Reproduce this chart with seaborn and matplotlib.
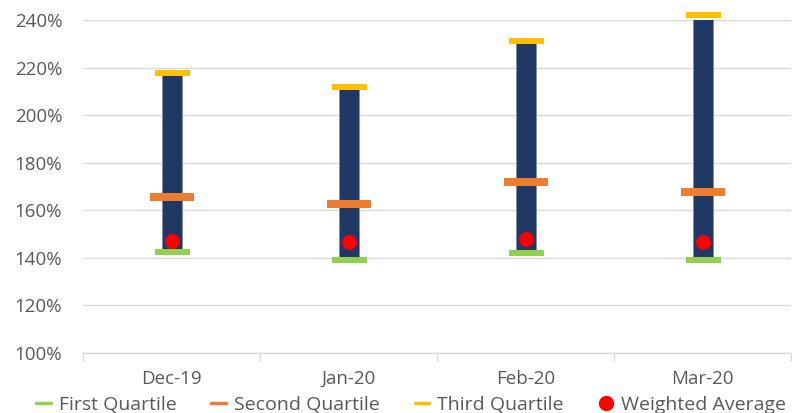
import numpy as np
import pandas as pd
import matplotlib
matplotlib.use("Agg")
import matplotlib.pyplot as plt
import seaborn as sns
from matplotlib.lines import Line2D
from matplotlib.ticker import FuncFormatter, FixedLocator

# ---- data ----
months = ["Dec-19", "Jan-20", "Feb-20", "Mar-20"]
first_quartile = [142.6, 139.1, 141.9, 139.2]
second_quartile = [165.7, 162.5, 172.0, 167.5]
third_quartile = [217.8, 211.9, 231.3, 242.0]
weighted_average = [147.0, 146.5, 147.8, 146.5]
y_ticks = [100, 120, 140, 160, 180, 200, 220, 240]
legend_labels = ["First Quartile", "Second Quartile", "Third Quartile", "Weighted Average"]

# ---- styles ----
NAVY = "#203864"
GREEN = "#92D050"
ORANGE = "#ED7D31"
YELLOW = "#FFC000"
RED = "#FF0000"
TXT = "#595959"
GRID = "#D9D9D9"

sns.set_theme(style="white")
plt.rcParams["font.family"] = ["Open Sans", "DejaVu Sans"]

df = pd.DataFrame({
    "month": months,
    "q1": first_quartile,
    "q2": second_quartile,
    "q3": third_quartile,
    "wa": weighted_average,
})
df["span"] = df["q3"] - df["q1"]

fig = plt.figure(figsize=(7.92, 4.13), dpi=100)
ax = fig.add_axes([0.1048, 0.1453, 0.8942, 0.8063])

sns.barplot(data=df, x="month", y="span", order=months, bottom=df["q1"].to_numpy(),
            color=NAVY, saturation=1, width=0.113, errorbar=None, ax=ax,
            edgecolor="#7F8FA9", linewidth=0.6, zorder=2)

rect_small = [(-1, -0.19), (1, -0.19), (1, 0.19), (-1, 0.19), (-1, -0.19)]
rect_wide = [(-1, -0.16), (1, -0.16), (1, 0.16), (-1, 0.16), (-1, -0.16)]

sns.stripplot(data=df, x="month", y="q1", order=months, jitter=False, marker=rect_small,
              size=25.2, color=GREEN, linewidth=0, ax=ax, zorder=3, clip_on=False)
sns.stripplot(data=df, x="month", y="q2", order=months, jitter=False, marker=rect_wide,
              size=31.7, color=ORANGE, linewidth=0, ax=ax, zorder=3, clip_on=False)
sns.stripplot(data=df, x="month", y="q3", order=months, jitter=False, marker=rect_small,
              size=25.2, color=YELLOW, linewidth=0, ax=ax, zorder=3, clip_on=False)
sns.stripplot(data=df, x="month", y="wa", order=months, jitter=False, marker="o",
              size=10.8, color=RED, linewidth=0, ax=ax, zorder=4, clip_on=False)

ax.set_xlim(-0.5, len(months) - 0.5)
ax.set_ylim(y_ticks[0], y_ticks[-1])
ax.yaxis.set_major_locator(FixedLocator(y_ticks))
ax.yaxis.set_major_formatter(FuncFormatter(lambda v, p: f"{v:.0f}%"))
ax.yaxis.grid(True, color=GRID, linewidth=1.0)
ax.xaxis.grid(False)
ax.set_axisbelow(True)
for s in ["left", "top", "right"]:
    ax.spines[s].set_visible(False)
ax.spines["bottom"].set_color(GRID)
ax.spines["bottom"].set_linewidth(1.0)

ax.set_xlabel("")
ax.set_ylabel("")
ax.set_xticks(np.arange(-0.5, len(months)), minor=True)
ax.tick_params(axis="x", which="major", length=0, pad=12, labelsize=13.5, labelcolor=TXT)
ax.tick_params(axis="x", which="minor", length=6, width=1, color=GRID, direction="out", bottom=True)
ax.tick_params(axis="y", length=0, pad=15, labelsize=13.5, labelcolor=TXT)

handles = [
    Line2D([], [], color=GREEN, lw=2.5),
    Line2D([], [], color=ORANGE, lw=2.5),
    Line2D([], [], color=YELLOW, lw=2.5),
    Line2D([], [], color=RED, marker="o", ls="", markersize=10),
]
fig.legend(handles, legend_labels, loc="lower center", ncol=4, bbox_to_anchor=(0.519, -0.045),
           frameon=False, handlelength=0.75, handletextpad=0.4, columnspacing=1.8,
           fontsize=14, labelcolor=TXT)

fig.savefig("out.png", dpi=100)
